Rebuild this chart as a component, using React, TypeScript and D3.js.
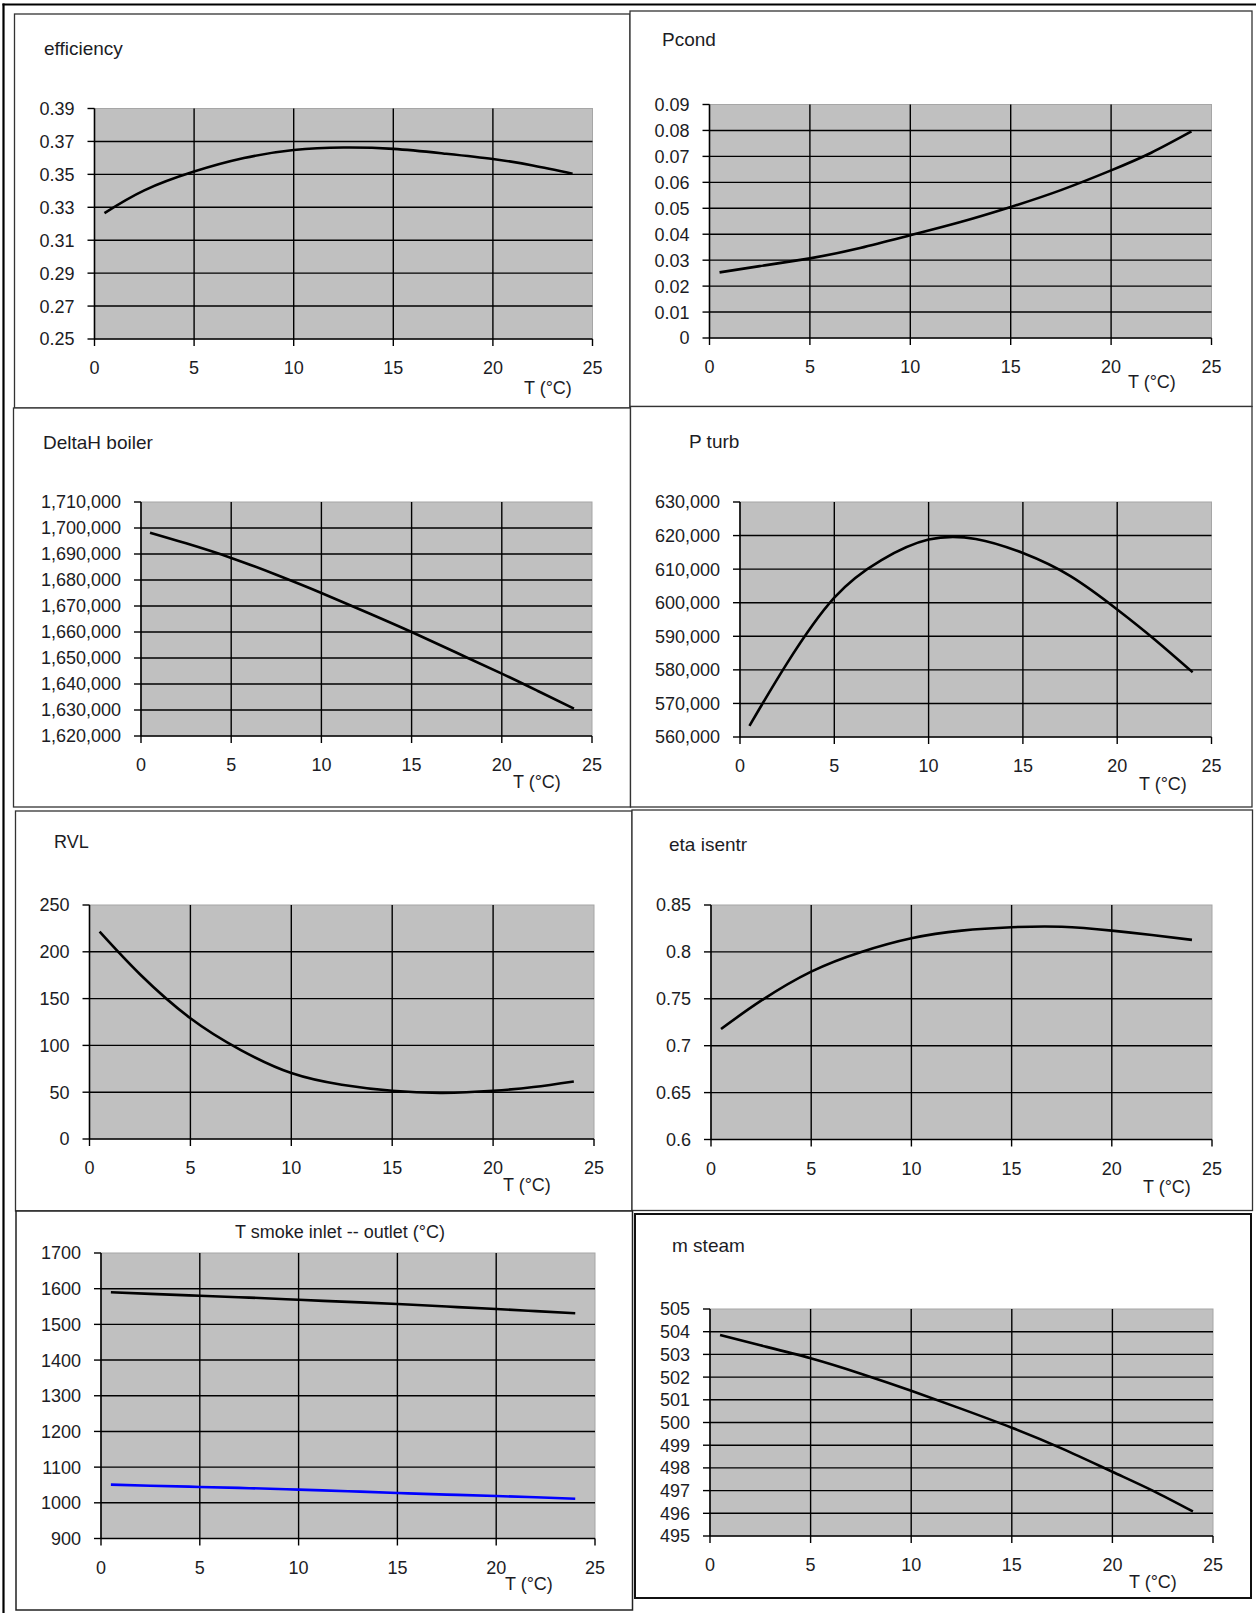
import React from 'react';
import * as d3 from 'd3';

// Ambient temperature samples (°C) shared by every curve
const tempC = [0.5, 2.5, 5, 7.5, 10, 12.5, 15, 17.5, 20, 22, 24];
const xTicks = [0, 5, 10, 15, 20, 25];

// Series values at each temperature sample
const efficiency = [0.3265, 0.3403, 0.3517, 0.3599, 0.3648, 0.3663, 0.3655, 0.3627, 0.3593, 0.3554, 0.3504];
const pCond = [0.0253, 0.0277, 0.0307, 0.0347, 0.0396, 0.0447, 0.0505, 0.057, 0.0646, 0.0714, 0.0796];
const deltaHBoiler = [1698200, 1694100, 1688500, 1682000, 1675000, 1667600, 1660000, 1652000, 1644000, 1637300, 1630500];
const pTurb = [563300, 582000, 601500, 612700, 618800, 619000, 614800, 608000, 598000, 589000, 579300];
const rvl = [221.5, 176, 129, 95, 70.5, 58, 51.5, 49.3, 51.5, 55.5, 61.5];
const etaIsentr = [0.7178, 0.748, 0.779, 0.8, 0.8146, 0.8227, 0.8263, 0.8268, 0.8227, 0.818, 0.8128];
const tSmokeInlet = [1590, 1585.5, 1580, 1575, 1569, 1563, 1557, 1550, 1543, 1537, 1531];
const tSmokeOutlet = [1051, 1048, 1044.5, 1041, 1037, 1032.5, 1027.5, 1023, 1019, 1015.5, 1011.5];
const mSteam = [503.85, 503.4, 502.83, 502.15, 501.4, 500.6, 499.77, 498.85, 497.83, 497.0, 496.08];

// Value-axis tick labels
const effTicks = [0.25, 0.27, 0.29, 0.31, 0.33, 0.35, 0.37, 0.39];
const pCondTicks = [0, 0.01, 0.02, 0.03, 0.04, 0.05, 0.06, 0.07, 0.08, 0.09];
const deltaHTicks = [1620000, 1630000, 1640000, 1650000, 1660000, 1670000, 1680000, 1690000, 1700000, 1710000];
const pTurbTicks = [560000, 570000, 580000, 590000, 600000, 610000, 620000, 630000];
const rvlTicks = [0, 50, 100, 150, 200, 250];
const etaTicks = [0.6, 0.65, 0.7, 0.75, 0.8, 0.85];
const tSmokeTicks = [900, 1000, 1100, 1200, 1300, 1400, 1500, 1600, 1700];
const mSteamTicks = [495, 496, 497, 498, 499, 500, 501, 502, 503, 504, 505];

const xUnit = 'T (°C)';

const decimal = (v: number) => String(+v.toFixed(2));
const thousands = d3.format(',');

type Series = { values: number[]; color: string };
type Panel = {
  title: string;
  titleX: number;
  titleY: number;
  titleAnchor: 'start' | 'middle';
  titleSize: number;
  box: [number, number, number, number];
  boxStroke: string;
  boxWidth: number;
  plot: [number, number, number, number];
  yTicks: number[];
  yFormat: (v: number) => string;
  series: Series[];
  unitX: number;
  unitY: number;
};

const panels: Panel[] = [
  {
    title: 'efficiency', titleX: 44, titleY: 55, titleAnchor: 'start', titleSize: 19,
    box: [14.5, 14, 630, 408], boxStroke: '#333', boxWidth: 1.3,
    plot: [94.5, 108.5, 592.5, 339],
    yTicks: effTicks, yFormat: decimal,
    series: [{ values: efficiency, color: '#000' }],
    unitX: 524, unitY: 394,
  },
  {
    title: 'Pcond', titleX: 662, titleY: 46, titleAnchor: 'start', titleSize: 19,
    box: [630, 11, 1252, 406.5], boxStroke: '#333', boxWidth: 1.3,
    plot: [709.5, 104.5, 1211.5, 338],
    yTicks: pCondTicks, yFormat: decimal,
    series: [{ values: pCond, color: '#000' }],
    unitX: 1128, unitY: 388,
  },
  {
    title: 'DeltaH boiler', titleX: 43, titleY: 449, titleAnchor: 'start', titleSize: 19,
    box: [13.5, 408, 630.5, 807], boxStroke: '#333', boxWidth: 1.3,
    plot: [141, 502, 592, 736],
    yTicks: deltaHTicks, yFormat: thousands,
    series: [{ values: deltaHBoiler, color: '#000' }],
    unitX: 513, unitY: 788,
  },
  {
    title: 'P turb', titleX: 689, titleY: 448, titleAnchor: 'start', titleSize: 19,
    box: [630.5, 406.5, 1252, 807], boxStroke: '#333', boxWidth: 1.3,
    plot: [740, 502, 1211.5, 737],
    yTicks: pTurbTicks, yFormat: thousands,
    series: [{ values: pTurb, color: '#000' }],
    unitX: 1139, unitY: 790,
  },
  {
    title: 'RVL', titleX: 54, titleY: 848, titleAnchor: 'start', titleSize: 18,
    box: [15.5, 811, 632, 1211], boxStroke: '#333', boxWidth: 1.3,
    plot: [89.5, 905, 594, 1139],
    yTicks: rvlTicks, yFormat: decimal,
    series: [{ values: rvl, color: '#000' }],
    unitX: 503, unitY: 1191,
  },
  {
    title: 'eta isentr', titleX: 669, titleY: 851, titleAnchor: 'start', titleSize: 19,
    box: [632, 810, 1252.5, 1210.5], boxStroke: '#333', boxWidth: 1.3,
    plot: [711, 905, 1212, 1139.5],
    yTicks: etaTicks, yFormat: decimal,
    series: [{ values: etaIsentr, color: '#000' }],
    unitX: 1143, unitY: 1193,
  },
  {
    title: 'T smoke inlet -- outlet (°C)', titleX: 340, titleY: 1238, titleAnchor: 'middle', titleSize: 18,
    box: [16, 1211, 632.5, 1610], boxStroke: '#222', boxWidth: 1.5,
    plot: [101, 1253, 595, 1538.5],
    yTicks: tSmokeTicks, yFormat: decimal,
    series: [
      { values: tSmokeInlet, color: '#000' },
      { values: tSmokeOutlet, color: '#0000ff' },
    ],
    unitX: 505, unitY: 1590,
  },
  {
    title: 'm steam', titleX: 672, titleY: 1252, titleAnchor: 'start', titleSize: 19,
    box: [635, 1214, 1251, 1598], boxStroke: '#111', boxWidth: 2,
    plot: [710, 1309, 1213, 1536],
    yTicks: mSteamTicks, yFormat: decimal,
    series: [{ values: mSteam, color: '#000' }],
    unitX: 1129, unitY: 1588,
  },
];

const FONT = '"Liberation Sans", Arial, Helvetica, sans-serif';
const TEXT = '#1c1c24';

function ChartPanel({ p }: { p: Panel }) {
  const [px0, py0, px1, py1] = p.plot;
  const x = d3.scaleLinear().domain([xTicks[0], xTicks[xTicks.length - 1]]).range([px0, px1]);
  const y = d3
    .scaleLinear()
    .domain([p.yTicks[0], p.yTicks[p.yTicks.length - 1]])
    .range([py1, py0]);
  const line = d3
    .line<number>()
    .x((_, i) => x(tempC[i]))
    .y((v) => y(v))
    .curve(d3.curveNatural);
  const [bx0, by0, bx1, by1] = p.box;

  return (
    <g>
      <rect x={bx0} y={by0} width={bx1 - bx0} height={by1 - by0} fill="#fff" stroke={p.boxStroke} strokeWidth={p.boxWidth} />
      <text x={p.titleX} y={p.titleY} textAnchor={p.titleAnchor} fontSize={p.titleSize} fill={TEXT} fontFamily={FONT}>
        {p.title}
      </text>
      {/* plot area */}
      <rect x={px0} y={py0} width={px1 - px0} height={py1 - py0} fill="#c0c0c0" stroke="#a6a6a6" strokeWidth={1} />
      {/* horizontal gridlines */}
      {p.yTicks.slice(1, -1).map((t) => (
        <line key={'h' + t} x1={px0} x2={px1} y1={y(t)} y2={y(t)} stroke="#000" strokeWidth={1.4} />
      ))}
      {/* vertical gridlines */}
      {xTicks.slice(1, -1).map((t) => (
        <line key={'v' + t} x1={x(t)} x2={x(t)} y1={py0} y2={py1} stroke="#000" strokeWidth={1.4} />
      ))}
      {/* axes */}
      <line x1={px0} x2={px0} y1={py0} y2={py1} stroke="#000" strokeWidth={1.6} />
      <line x1={px0} x2={px1} y1={py1} y2={py1} stroke="#000" strokeWidth={1.6} />
      {p.yTicks.map((t) => (
        <g key={'yt' + t}>
          <line x1={px0 - 7} x2={px0} y1={y(t)} y2={y(t)} stroke="#000" strokeWidth={1.4} />
          <text x={px0 - 20} y={y(t)} dy="0.36em" textAnchor="end" fontSize={18} fill={TEXT} fontFamily={FONT}>
            {p.yFormat(t)}
          </text>
        </g>
      ))}
      {xTicks.map((t) => (
        <g key={'xt' + t}>
          <line x1={x(t)} x2={x(t)} y1={py1} y2={py1 + 7} stroke="#000" strokeWidth={1.4} />
          <text x={x(t)} y={py1 + 35} textAnchor="middle" fontSize={18} fill={TEXT} fontFamily={FONT}>
            {t}
          </text>
        </g>
      ))}
      <text x={p.unitX} y={p.unitY} fontSize={18} fill={TEXT} fontFamily={FONT}>
        {xUnit}
      </text>
      {p.series.map((s, i) => (
        <path key={'s' + i} d={line(s.values) || ''} fill="none" stroke={s.color} strokeWidth={2.6} />
      ))}
    </g>
  );
}

export default function App() {
  return (
    <svg
      width={1256}
      height={1613}
      viewBox="0 0 1256 1613"
      style={{ position: 'absolute', left: 0, top: 0, background: '#fff' }}
    >
      <rect x={0} y={0} width={1256} height={1613} fill="#fff" />
      {panels.map((p) => (
        <ChartPanel key={p.title} p={p} />
      ))}
      {/* surrounding table frame */}
      <line x1={3.5} x2={3.5} y1={3.5} y2={1613} stroke="#000" strokeWidth={2.2} />
      <line x1={2.5} x2={1256} y1={4.5} y2={4.5} stroke="#000" strokeWidth={2.2} />
    </svg>
  );
}
